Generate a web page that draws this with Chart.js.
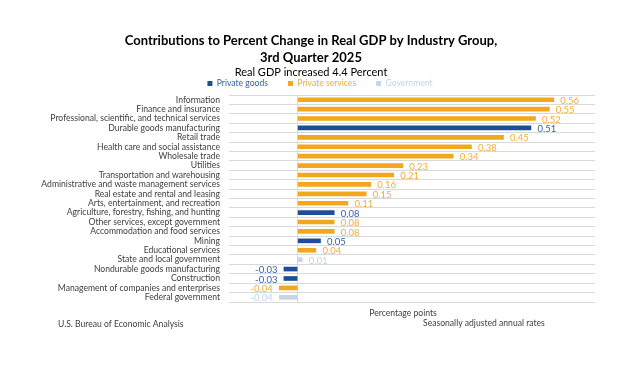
<!DOCTYPE html>
<html>
<head>
<meta charset="utf-8">
<script src="https://cdn.jsdelivr.net/npm/chart.js@4/dist/chart.umd.min.js"></script>
<style>
  body { margin: 0; background: #fff; }
  #wrap { width: 624px; height: 369px; }
</style>
</head>
<body>
<div id="wrap"><canvas id="gdpChart" width="624" height="369"></canvas></div>
<script>
// industries, top to bottom
const industries = [
    "Information",
    "Finance and insurance",
    "Professional, scientific, and technical services",
    "Durable goods manufacturing",
    "Retail trade",
    "Health care and social assistance",
    "Wholesale trade",
    "Utilities",
    "Transportation and warehousing",
    "Administrative and waste management services",
    "Real estate and rental and leasing",
    "Arts, entertainment, and recreation",
    "Agriculture, forestry, fishing, and hunting",
    "Other services, except government",
    "Accommodation and food services",
    "Mining",
    "Educational services",
    "State and local government",
    "Nondurable goods manufacturing",
    "Construction",
    "Management of companies and enterprises",
    "Federal government"
];
const contributions = [0.56, 0.55, 0.52, 0.51, 0.45, 0.38, 0.34, 0.23, 0.21, 0.16, 0.15,
    0.11, 0.08, 0.08, 0.08, 0.05, 0.04, 0.01, -0.03, -0.03, -0.04, -0.04];
const groups = ["services", "services", "services", "goods", "services", "services", "services",
    "services", "services", "services", "services", "services", "goods", "services", "services",
    "goods", "services", "gov", "goods", "goods", "services", "gov"];

const seriesNames = { goods: "Private goods", services: "Private services", gov: "Government" };
const seriesColors = { goods: "#1F4E99", services: "#F2A81D", gov: "#C6D5EA" };
const labelColors = { goods: "#3462AA", services: "#F3AE35", gov: "#C3D2E8" };

function valuesFor(group) {
    return contributions.map(function (v, i) { return groups[i] === group ? v : null; });
}

const datasets = ["goods", "services", "gov"].map(function (g) {
    return {
        label: seriesNames[g],
        data: valuesFor(g),
        backgroundColor: seriesColors[g],
        labelColor: labelColors[g],
        barThickness: 4,
        borderWidth: 0
    };
});

// value labels next to each bar
const valueLabels = {
    id: "valueLabels",
    afterDatasetsDraw: function (chart) {
        const ctx = chart.ctx;
        ctx.save();
        ctx.font = "9.5px Lato";
        ctx.textBaseline = "middle";
        chart.data.datasets.forEach(function (ds, di) {
            const meta = chart.getDatasetMeta(di);
            meta.data.forEach(function (bar, i) {
                const v = ds.data[i];
                if (v === null) return;
                ctx.fillStyle = ds.labelColor;
                if (v >= 0) {
                    ctx.textAlign = "left";
                    ctx.fillText(v.toFixed(2), bar.x + 6.5, bar.y + 1);
                } else {
                    ctx.textAlign = "right";
                    ctx.fillText(v.toFixed(2), bar.x - 6.5, bar.y + 1);
                }
            });
        });
        ctx.restore();
    }
};

// legend sits a little right of the title in the original
const legendShift = {
    id: "legendShift",
    afterLayout: function (chart) {
        if (chart.legend) {
            chart.legend.left += 9;
            chart.legend.right += 9;
        }
    }
};

// axis note and footer notes
const notes = {
    id: "notes",
    afterDraw: function (chart) {
        const ctx = chart.ctx;
        ctx.save();
        ctx.font = "8.6px Lato";
        ctx.fillStyle = "#404040";
        ctx.textBaseline = "middle";
        ctx.textAlign = "center";
        ctx.fillText("Percentage points", 403, 313);
        ctx.textAlign = "left";
        ctx.fillText("U.S. Bureau of Economic Analysis", 58, 324);
        ctx.fillText("Seasonally adjusted annual rates", 423, 323);
        ctx.restore();
    }
};

const canvas = document.getElementById("gdpChart");
new Chart(canvas.getContext("2d"), {
    type: "bar",
    data: { labels: industries, datasets: datasets },
    options: {
        responsive: false,
        animation: false,
        indexAxis: "y",
        layout: { padding: { top: 33, right: 29, bottom: 67, left: 27 } },
        scales: {
            x: {
                stacked: true,
                min: -0.15,
                max: 0.65,
                border: { display: false },
                ticks: { display: false },
                grid: {
                    drawTicks: false,
                    color: function (c) { return c.tick && c.tick.value === 0 ? "#D9D9D9" : "transparent"; }
                }
            },
            y: {
                stacked: true,
                border: { display: false },
                grid: { drawTicks: false, color: "#D9D9D9" },
                ticks: {
                    color: "#404040",
                    font: { family: "Lato", size: 8.6 },
                    padding: 9,
                    autoSkip: false
                },
                afterFit: function (scale) { scale.width = 202; }
            }
        },
        plugins: {
            title: {
                display: true,
                text: ["Contributions to Percent Change in Real GDP by Industry Group,", "3rd Quarter 2025"],
                color: "#000",
                font: { family: "Lato", size: 13, weight: "bold", lineHeight: 1.27 },
                padding: { top: 0, bottom: 0 }
            },
            subtitle: {
                display: true,
                text: "Real GDP increased 4.4 Percent",
                color: "#000",
                font: { family: "Lato", size: 11, lineHeight: 1.2 },
                padding: { top: 0, bottom: -20 }
            },
            legend: {
                position: "top",
                maxHeight: 29,
                labels: {
                    boxWidth: 5,
                    boxHeight: 5,
                    padding: 20,
                    font: { family: "Lato", size: 8.6 },
                    generateLabels: function (chart) {
                        return chart.data.datasets.map(function (ds, i) {
                            return {
                                text: ds.label,
                                fillStyle: ds.backgroundColor,
                                strokeStyle: ds.backgroundColor,
                                lineWidth: 0,
                                fontColor: ds.labelColor,
                                datasetIndex: i
                            };
                        });
                    }
                }
            },
            tooltip: { enabled: false }
        }
    },
    plugins: [valueLabels, legendShift, notes]
});
</script>
</body>
</html>
